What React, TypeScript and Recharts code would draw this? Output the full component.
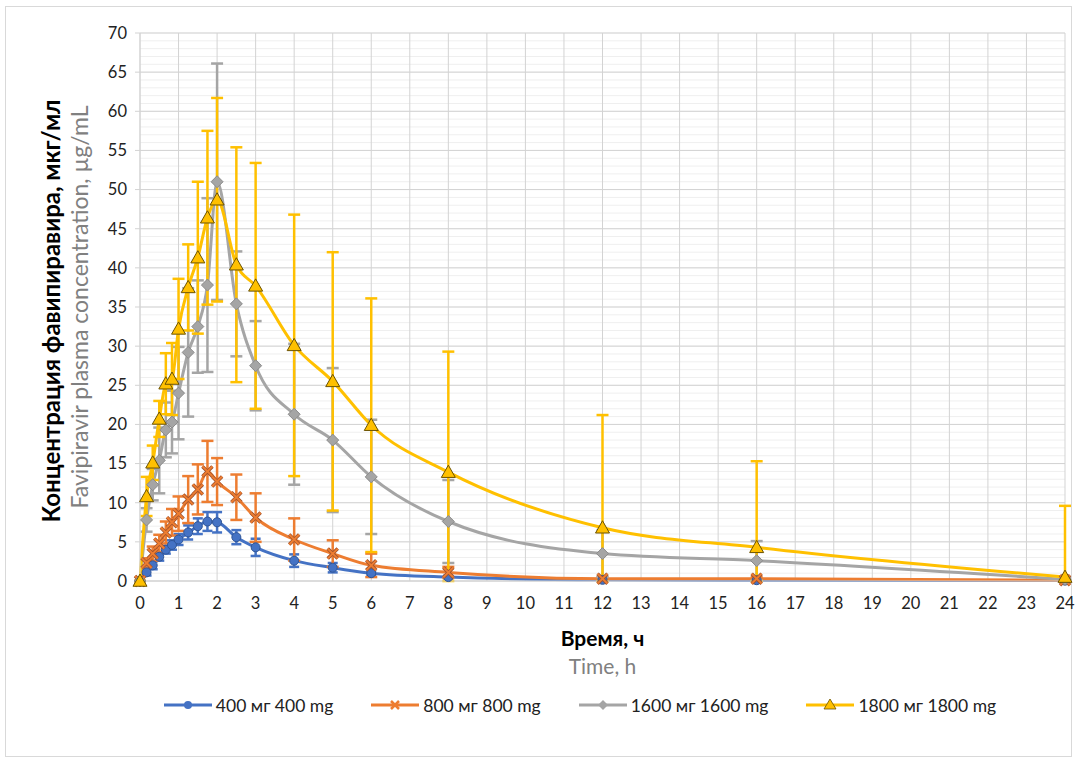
import React from 'react';
import { LineChart, Line, XAxis, YAxis, CartesianGrid, ErrorBar } from 'recharts';

const times = [0, 0.17, 0.33, 0.5, 0.67, 0.83, 1, 1.25, 1.5, 1.75, 2, 2.5, 3, 4, 5, 6, 8, 12, 16, 24];

const c400 = [0, 1.1, 2.0, 3.1, 4.0, 4.6, 5.3, 6.2, 7.0, 7.6, 7.5, 5.6, 4.3, 2.6, 1.7, 1.0, 0.5, 0.15, 0.1, 0.05];
const sd400 = [0, 0.4, 0.5, 0.5, 0.5, 0.6, 0.7, 0.9, 1.0, 1.2, 1.3, 0.9, 1.1, 0.8, 0.6, 0.3, 0.2, 0.05, 0.05, 0.02];

const c800 = [0, 2.3, 3.5, 4.8, 6.2, 7.5, 8.6, 10.4, 11.7, 14.0, 12.7, 10.7, 8.1, 5.3, 3.5, 2.0, 1.1, 0.3, 0.3, 0.1];
const sd800 = [0, 0.6, 0.9, 1.1, 1.4, 1.7, 2.2, 3.0, 3.2, 3.9, 3.0, 2.9, 3.1, 2.7, 1.7, 1.5, 0.7, 0.2, 0.2, 0.1];

const c1600 = [0, 7.8, 12.3, 15.4, 19.3, 20.3, 24.0, 29.2, 32.5, 37.8, 51.0, 35.4, 27.5, 21.3, 18.0, 13.3, 7.6, 3.5, 2.6, 0.2];
const sd1600 = [0, 1.5, 2.0, 4.2, 3.5, 4.0, 5.9, 8.2, 5.9, 11.1, 15.1, 6.7, 5.7, 9.0, 9.2, 7.3, 5.3, 3.0, 2.5, 0.3];

const c1800 = [0, 10.8, 15.1, 20.7, 25.2, 25.8, 32.2, 37.5, 41.3, 46.4, 48.7, 40.4, 37.7, 30.1, 25.5, 19.9, 13.9, 6.8, 4.3, 0.5];
const sd1800 = [0, 2.5, 2.2, 2.3, 3.9, 4.6, 6.4, 5.5, 9.7, 11.1, 13.0, 15.0, 15.7, 16.7, 16.5, 16.2, 15.4, 14.4, 11.0, 9.1];

const xTicks = [0, 1, 2, 3, 4, 5, 6, 7, 8, 9, 10, 11, 12, 13, 14, 15, 16, 17, 18, 19, 20, 21, 22, 23, 24];
const yTicks = [0, 5, 10, 15, 20, 25, 30, 35, 40, 45, 50, 55, 60, 65, 70];
const yMinor = Array.from({ length: 71 }, (_, i) => i);

const seriesNames = ['400 мг 400 mg', '800 мг 800 mg', '1600 мг 1600 mg', '1800 мг 1800 mg'];

const err = (v: number, s: number) => [Math.min(v, s), s];

const data = times.map((t, i) => ({
  t,
  a: c400[i],
  ae: err(c400[i], sd400[i]),
  b: c800[i],
  be: err(c800[i], sd800[i]),
  c: c1600[i],
  ce: err(c1600[i], sd1600[i]),
  d: c1800[i],
  de: err(c1800[i], sd1800[i]),
}));

const BLUE = '#4472C4';
const ORANGE = '#ED7D31';
const GRAY = '#A5A5A5';
const YELLOW = '#FFC000';
const FONT = "Lato, 'Noto Sans', sans-serif";

const CircleDot = (p: any) => (
  <circle key={`a-${p.index}`} cx={p.cx} cy={p.cy} r={4.5} fill={BLUE} stroke="#2F5597" strokeWidth={1} />
);
const XDot = (p: any) => {
  const s = 5;
  return (
    <g key={`b-${p.index}`}>
      <path d={`M${p.cx - s},${p.cy - s}L${p.cx + s},${p.cy + s}M${p.cx - s},${p.cy + s}L${p.cx + s},${p.cy - s}`} stroke="#A0522D" strokeWidth={3.5} />
      <path d={`M${p.cx - s},${p.cy - s}L${p.cx + s},${p.cy + s}M${p.cx - s},${p.cy + s}L${p.cx + s},${p.cy - s}`} stroke={ORANGE} strokeWidth={2} />
    </g>
  );
};
const DiamondDot = (p: any) => {
  const s = 6;
  return (
    <path key={`c-${p.index}`} d={`M${p.cx},${p.cy - s}L${p.cx + s},${p.cy}L${p.cx},${p.cy + s}L${p.cx - s},${p.cy}Z`} fill={GRAY} stroke="#8a8a8a" strokeWidth={1} />
  );
};
const TriDot = (p: any) => {
  const s = 7;
  return (
    <path key={`d-${p.index}`} d={`M${p.cx},${p.cy - s}L${p.cx + s},${p.cy + s * 0.75}L${p.cx - s},${p.cy + s * 0.75}Z`} fill={YELLOW} stroke="#6b5200" strokeWidth={1} />
  );
};

const legendMarkers = [
  (cx: number, cy: number) => <circle cx={cx} cy={cy} r={4} fill={BLUE} />,
  (cx: number, cy: number) => (
    <path d={`M${cx - 4},${cy - 4}L${cx + 4},${cy + 4}M${cx - 4},${cy + 4}L${cx + 4},${cy - 4}`} stroke={ORANGE} strokeWidth={2.5} />
  ),
  (cx: number, cy: number) => <path d={`M${cx},${cy - 5}L${cx + 5},${cy}L${cx},${cy + 5}L${cx - 5},${cy}Z`} fill={GRAY} />,
  (cx: number, cy: number) => <path d={`M${cx},${cy - 6}L${cx + 6},${cy + 4}L${cx - 6},${cy + 4}Z`} fill={YELLOW} stroke="#6b5200" strokeWidth={0.8} />,
];
const legendColors = [BLUE, ORANGE, GRAY, YELLOW];

const YTitle = (props: any) => {
  const vb = props.viewBox || { x: 0, y: 33, width: 140, height: 548 };
  const cy = vb.y + vb.height / 2;
  return (
    <g>
      <text transform={`translate(50,${cy + 4}) rotate(-90)`} textAnchor="middle" dominantBaseline="central" fontFamily={FONT} fontWeight="bold" fontSize={24} fill="#000">
        Концентрация фавипиравира, мкг/мл
      </text>
      <text transform={`translate(79,${cy}) rotate(-90)`} textAnchor="middle" dominantBaseline="central" fontFamily={FONT} fontSize={23} fill="#808080">
        Favipiravir plasma concentration, µg/mL
      </text>
    </g>
  );
};

const XTitle = (props: any) => {
  const vb = props.viewBox || { x: 140, y: 581, width: 928, height: 30 };
  const cx = vb.x + vb.width / 2;
  return (
    <g>
      <text x={cx} y={637} textAnchor="middle" dominantBaseline="central" fontFamily={FONT} fontWeight="bold" fontSize={21} fill="#000">
        Время, ч
      </text>
      <text x={cx} y={665} textAnchor="middle" dominantBaseline="central" fontFamily={FONT} fontSize={21} fill="#808080">
        Time, h
      </text>
    </g>
  );
};

export default function App() {
  return (
    <div style={{ position: 'absolute', left: 0, top: 0, width: 1076, height: 763, background: '#fff' }}>
      <div style={{ position: 'absolute', left: 5, top: 6, width: 1065, height: 749, border: '1px solid #d9d9d9' }} />
      <div style={{ position: 'absolute', left: 0, top: 0 }}>
        <LineChart width={1076} height={763} data={data} margin={{ top: 33, right: 11, bottom: 152, left: 0 }}>
          <CartesianGrid horizontalValues={yMinor} vertical={false} stroke="#efefef" strokeWidth={1} />
          <CartesianGrid horizontalValues={yTicks} verticalValues={xTicks} stroke="#d3d3d3" strokeWidth={1} />
          <XAxis
            type="number"
            dataKey="t"
            domain={[0, 24]}
            ticks={xTicks}
            interval={0}
            height={30}
            tickLine={false}
            tickSize={6}
            tickMargin={10}
            axisLine={{ stroke: '#d3d3d3' }}
            tick={{ fontFamily: FONT, fontSize: 16.5, fill: '#222' }}
            label={{ content: XTitle }}
          />
          <YAxis
            type="number"
            domain={[0, 70]}
            ticks={yTicks}
            interval={0}
            width={140}
            tickSize={5}
            tickMargin={8}
            tickLine={{ stroke: '#d3d3d3' }}
            axisLine={{ stroke: '#d3d3d3' }}
            tick={{ fontFamily: FONT, fontSize: 16.5, fill: '#222' }}
            label={{ content: YTitle }}
          />
          <Line type="monotone" dataKey="a" stroke={BLUE} strokeWidth={3} dot={CircleDot} isAnimationActive={false}>
            <ErrorBar dataKey="ae" direction="y" width={5} strokeWidth={2.5} stroke={BLUE} />
          </Line>
          <Line type="monotone" dataKey="b" stroke={ORANGE} strokeWidth={3} dot={XDot} isAnimationActive={false}>
            <ErrorBar dataKey="be" direction="y" width={6} strokeWidth={2.5} stroke={ORANGE} />
          </Line>
          <Line type="monotone" dataKey="c" stroke={GRAY} strokeWidth={3} dot={DiamondDot} isAnimationActive={false}>
            <ErrorBar dataKey="ce" direction="y" width={6} strokeWidth={2.5} stroke={GRAY} />
          </Line>
          <Line type="monotone" dataKey="d" stroke={YELLOW} strokeWidth={3} dot={TriDot} isAnimationActive={false}>
            <ErrorBar dataKey="de" direction="y" width={6} strokeWidth={2.5} stroke={YELLOW} />
          </Line>
        </LineChart>
      </div>
      <div
        style={{
          position: 'absolute',
          left: 140,
          width: 880,
          top: 694,
          display: 'flex',
          justifyContent: 'center',
          alignItems: 'center',
          fontFamily: FONT,
          fontSize: 17.5,
          color: '#222',
        }}
      >
        {seriesNames.map((n, i) => (
          <div key={n} style={{ display: 'flex', alignItems: 'center', marginRight: i < 3 ? 38 : 0 }}>
            <svg width={48} height={22} style={{ marginRight: 4 }}>
              <line x1={0} y1={11} x2={48} y2={11} stroke={legendColors[i]} strokeWidth={3} />
              {legendMarkers[i](24, 11)}
            </svg>
            <span>{n}</span>
          </div>
        ))}
      </div>
    </div>
  );
}
